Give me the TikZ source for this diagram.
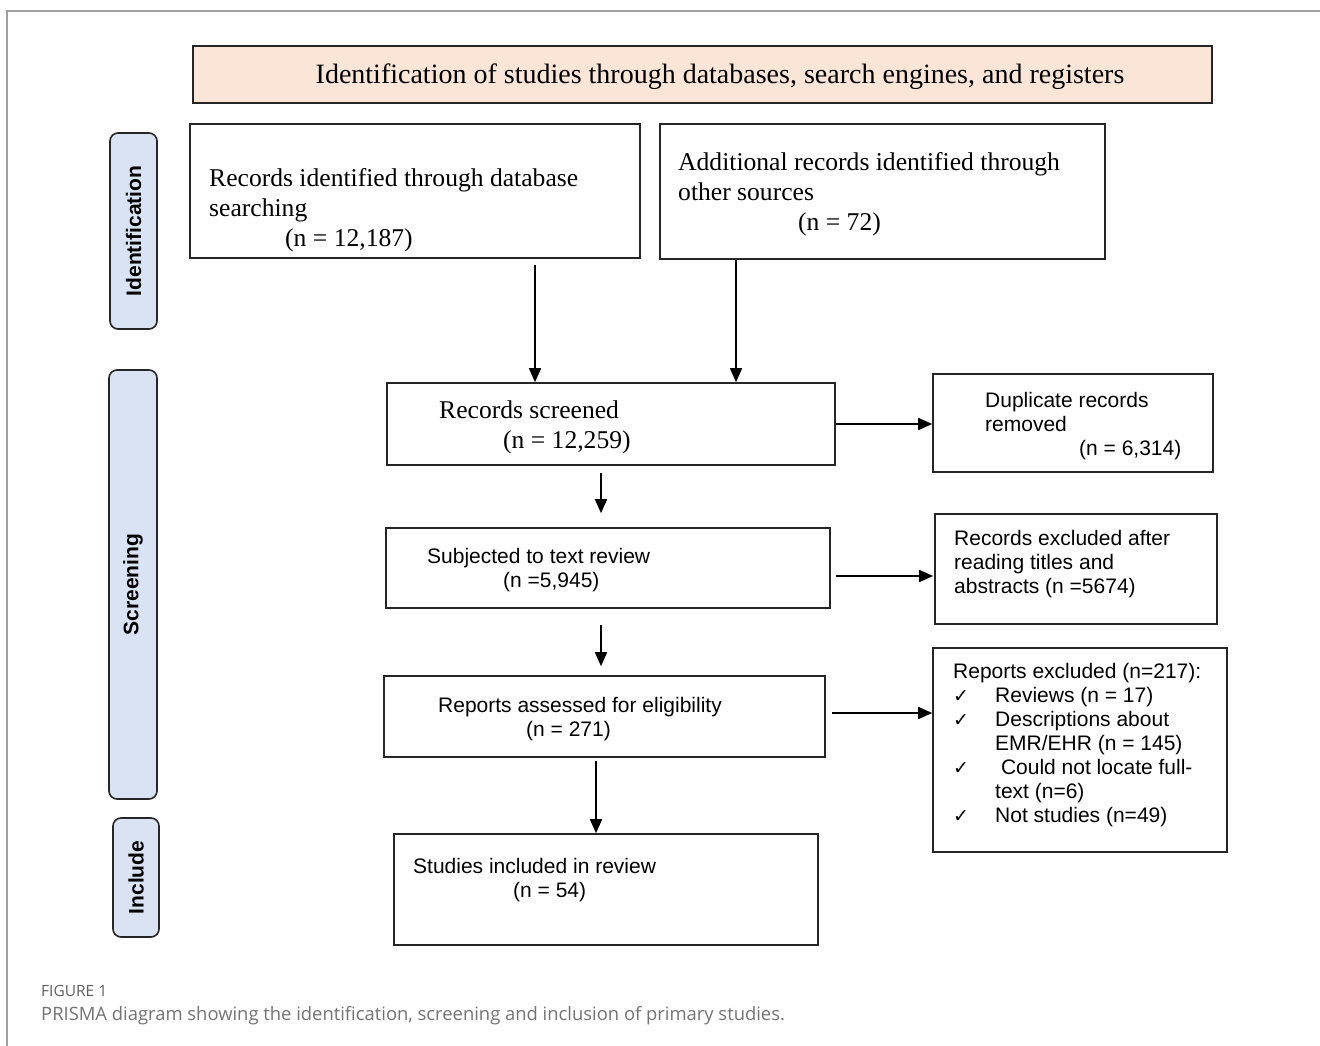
\documentclass[tikz,border=0pt]{standalone}
\usepackage{fontspec}
\setmainfont{Liberation Serif}
\setsansfont{Liberation Sans}
\newfontfamily\capfont{Open Sans}
\newfontfamily\symfont{DejaVu Sans}
\usetikzlibrary{arrows.meta,calc}
\definecolor{peach}{RGB}{251,229,214}
\definecolor{sideblue}{RGB}{218,227,243}
\definecolor{framegray}{RGB}{160,160,160}
\definecolor{capgray}{RGB}{115,115,115}
\definecolor{figgray}{RGB}{95,95,95}
\newcommand{\ckmark}{\makebox[42pt][l]{\symfont\fontsize{19}{24}\selectfont ✓}}
\begin{document}
\begin{tikzpicture}[x=1pt,y=-1pt,
 box/.style={draw=black!85,line width=1.6pt,inner sep=0pt,fill=white},
 sidebox/.style={draw=black!85,line width=1.6pt,fill=sideblue,rounded corners=8pt,inner sep=0pt},
 sidetxt/.style={font=\sffamily\bfseries\fontsize{21}{24}\selectfont,rotate=90,inner sep=0pt},
 sertxt/.style={font=\fontsize{25.6}{30}\selectfont,align=left,anchor=north west,inner sep=0pt},
 santxt/.style={font=\sffamily\fontsize{21}{24}\selectfont,align=left,anchor=north west,inner sep=0pt},
 arr/.style={line width=1.6pt,-{Triangle[length=14pt,width=12pt]}},
 captxt/.style={anchor=north west,inner sep=0pt,text=capgray},
]
\useasboundingbox (0,0) rectangle (1320,1046);
\fill[white] (0,0) rectangle (1320,1046);
% frame
\coordinate (fbl) at (7,1046);
\coordinate (ftl) at (7,11);
\coordinate (ftr) at (1320,11);
\draw[framegray,line width=1.2pt] (fbl) -- (ftl) -- (ftr);

% title
\node[box,fill=peach,line width=2pt,minimum width=1019pt,minimum height=57pt] (title) at (702.5,74.5) {};
\node[font=\fontsize{28}{30}\selectfont,inner sep=0pt] (titletxt) at (720,77) {Identification of studies through databases, search engines, and registers};

% side labels
\node[sidebox,minimum width=47pt,minimum height=196pt] (s1) at (133.5,231) {};
\node[sidetxt] (s1t) at (s1.center) {Identification};
\node[sidebox,minimum width=48pt,minimum height=429pt] (s2) at (133,584.5) {};
\node[sidetxt] (s2t) at (s2.center) {Screening};
\node[sidebox,minimum width=46pt,minimum height=119pt] (s3) at (136,877.5) {};
\node[sidetxt] (s3t) at (s3.center) {Include};

% boxes
\node[box,minimum width=450pt,minimum height=134pt] (b1) at (415,191) {};
\node[sertxt] (b1t) at (209,168) {Records identified through database\\searching\\\hspace*{76pt}(n = 12,187)};
\node[box,minimum width=445pt,minimum height=135pt] (b2) at (882.5,191.5) {};
\node[sertxt] (b2t) at (678,152) {Additional records identified through\\other sources\\\hspace*{120pt}(n = 72)};
\node[box,minimum width=448pt,minimum height=82pt] (b3) at (611,424) {};
\node[sertxt] (b3t) at (439,401) {Records screened\\\hspace*{64pt}(n = 12,259)};
\node[box,minimum width=280pt,minimum height=98pt] (b4) at (1073,423) {};
\node[santxt] (b4t) at (985,392) {Duplicate records\\removed\\\hspace*{94pt}(n = 6,314)};
\node[box,minimum width=444pt,minimum height=80pt] (b5) at (608,568) {};
\node[santxt] (b5t) at (427,548) {Subjected to text review\\\hspace*{76pt}(n =5,945)};
\node[box,minimum width=282pt,minimum height=110pt] (b6) at (1076,569) {};
\node[santxt] (b6t) at (954,530) {Records excluded after\\reading titles and\\abstracts (n =5674)};
\node[box,minimum width=441pt,minimum height=81pt] (b7) at (604.5,716.5) {};
\node[santxt] (b7t) at (438,697) {Reports assessed for eligibility\\\hspace*{88pt}(n = 271)};
\node[box,minimum width=294pt,minimum height=204pt] (b8) at (1080,750) {};
\node[santxt] (b8t) at (953,663) {Reports excluded (n=217):\\\ckmark Reviews (n = 17)\\\ckmark Descriptions about\\\hspace*{42pt}EMR/EHR (n = 145)\\\ckmark\ Could not locate full-\\\hspace*{42pt}text (n=6)\\\ckmark Not studies (n=49)};
\node[box,minimum width=424pt,minimum height=111pt] (b9) at (606,889.5) {};
\node[santxt] (b9t) at (413,858) {Studies included in review\\\hspace*{100pt}(n = 54)};

% arrow columns
\coordinate (xa) at (535,0);
\coordinate (xb) at (736,0);
\coordinate (xc) at (601,0);
\coordinate (xd) at (596,0);
\coordinate (ye) at (0,576);
\coordinate (yf) at (0,713);

\draw[arr] ([yshift=-6pt]b1.south -| xa) -- (b3.north -| xa);
\draw[arr] (b2.south -| xb) -- (b3.north -| xb);
\draw[arr] (b3.east) -- (b3.east -| b4.west);
\draw[arr] ([yshift=-7pt]b3.south -| xc) -- ([yshift=14pt]b5.north -| xc);
\draw[arr] ([xshift=5pt]b5.east |- ye) -- ([xshift=-1pt]b6.west |- ye);
\draw[arr] ([yshift=-16pt]b5.south -| xc) -- ([yshift=9pt]b7.north -| xc);
\draw[arr] ([xshift=6pt]b7.east |- yf) -- (b8.west |- yf);
\draw[arr] ([yshift=-3pt]b7.south -| xd) -- (b9.north -| xd);

% caption
\node[captxt,text=figgray,font=\capfont\fontsize{15.5}{18}\selectfont] (fig) at (41,985) {FIGURE 1};
\node[captxt,font=\capfont\fontsize{18.4}{22}\selectfont] (cap) at (41,1006) {PRISMA diagram showing the identification, screening and inclusion of primary studies.};
\end{tikzpicture}
\end{document}
